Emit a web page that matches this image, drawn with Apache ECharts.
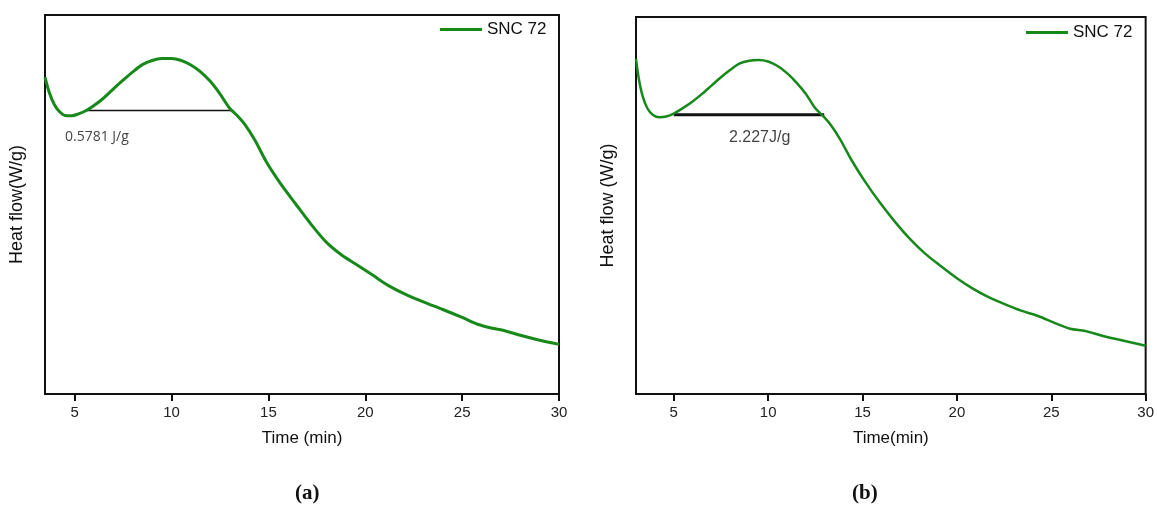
<!DOCTYPE html>
<html>
<head>
<meta charset="utf-8">
<script src="https://cdn.jsdelivr.net/npm/echarts@6/dist/echarts.min.js"></script>
<style>
  html, body { margin: 0; padding: 0; background: #fff; }
  #chart { width: 1157px; height: 507px; }
</style>
</head>
<body>
<div id="chart"></div>
<script>
// panel (a)
const timeA = [3.47, 3.7, 3.95, 4.2, 4.5, 4.85, 5.2, 5.6, 6.0, 6.5, 7.0, 7.5, 8.0, 8.5, 9.0, 9.5, 10.0, 10.5, 11.0, 11.5, 12.0, 12.5, 13.0, 13.4, 13.8, 14.3, 14.9, 15.6, 16.4, 17.2, 18.0, 18.8, 19.6, 20.4, 21.2, 22.0, 23.0, 24.0, 25.0, 25.8, 26.5, 27.2, 28.0, 29.0, 30]
const heatA = [83.6, 79.4, 76.4, 74.6, 73.5, 73.4, 73.9, 74.8, 76.1, 78.1, 80.5, 82.8, 85.0, 86.9, 88.0, 88.5, 88.5, 88.0, 86.8, 85.0, 82.5, 79.2, 75.4, 73.4, 71.0, 67.0, 61.2, 55.7, 50.2, 44.8, 40.0, 36.6, 34.0, 31.3, 28.6, 26.5, 24.3, 22.3, 20.2, 18.4, 17.4, 16.7, 15.5, 14.2, 13.1]
const baseA = [[5.53, 74.8], [13.11, 74.8]]
const noteA = [[4.5, 67.8, '0.5781 J/g']]

// panel (b)
const timeB = [3.0, 3.15, 3.35, 3.6, 3.9, 4.25, 4.6, 5.0, 5.5, 6.0, 6.5, 7.0, 7.5, 8.0, 8.5, 9.0, 9.5, 10.0, 10.5, 11.0, 11.5, 12.0, 12.5, 12.9, 13.3, 13.8, 14.4, 15.1, 15.9, 16.7, 17.5, 18.3, 19.1, 20.0, 20.8, 21.6, 22.5, 23.4, 24.3, 25.2, 26.0, 26.8, 27.6, 28.5, 29.3, 30]
const heatB = [88.9, 83.6, 79.0, 75.8, 74.0, 73.4, 73.6, 74.4, 75.9, 77.6, 79.6, 81.8, 84.0, 86.0, 87.7, 88.4, 88.6, 88.2, 87.0, 85.1, 82.6, 79.6, 75.8, 73.8, 71.5, 67.7, 62.2, 56.6, 50.9, 45.8, 41.2, 37.3, 34.1, 30.7, 28.1, 25.9, 23.9, 22.1, 20.7, 18.8, 17.3, 16.7, 15.6, 14.5, 13.6, 12.8]
const baseB = [[5.0, 74.1], [12.97, 74.1]]
const noteB = [[9.55, 67.9, '2.227J/g']]

const xTicks = [5, 10, 15, 20, 25, 30]
const seriesName = 'SNC 72'

const green = '#17891a'
const font = 'Liberation Sans, Arial, sans-serif'

function pairs (xs, ys) {
  return xs.map((x, i) => [x, ys[i]])
}

function xAxisFor (idx, min, name) {
  return {
    type: 'value',
    gridIndex: idx,
    min: min,
    max: 30,
    name: name,
    nameLocation: 'middle',
    nameGap: 36,
    nameTextStyle: { fontFamily: font, fontSize: 17, color: '#111' },
    axisLine: { show: true, lineStyle: { color: '#111', width: 2 } },
    axisTick: { show: true, length: 7, lineStyle: { color: '#111', width: 2 }, customValues: xTicks },
    axisLabel: { margin: 11, fontFamily: font, fontSize: 15, color: '#222', customValues: xTicks },
    splitLine: { show: false }
  }
}

function yAxisFor (idx, name) {
  return {
    type: 'value',
    gridIndex: idx,
    min: 0,
    max: 100,
    name: name,
    nameLocation: 'middle',
    nameGap: 19,
    nameTextStyle: { fontFamily: font, fontSize: 18, color: '#111' },
    axisLine: { show: true, lineStyle: { color: '#111', width: 2 } },
    axisTick: { show: false },
    axisLabel: { show: false },
    splitLine: { show: false }
  }
}

const chart = echarts.init(document.getElementById('chart'))
const option = {
  animation: false,
  backgroundColor: '#fff',
  title: [
    {
      text: '{p|(}{b|a}{p|)}',
      left: 290,
      top: 478,
      textStyle: {
        rich: {
          p: { fontFamily: 'Liberation Serif, serif', fontSize: 21, color: '#111' },
          b: { fontFamily: 'Liberation Serif, serif', fontSize: 21, fontWeight: 'bold', color: '#111' }
        }
      }
    },
    {
      text: '(b)',
      left: 847,
      top: 478,
      textStyle: { fontFamily: 'Liberation Serif, serif', fontSize: 21, fontWeight: 'bold', color: '#111' }
    }
  ],
  legend: [
    {
      data: [seriesName],
      left: 440,
      top: 21,
      padding: 0,
      icon: 'rect',
      itemWidth: 42,
      itemHeight: 3,
      itemGap: 5,
      selectedMode: false,
      textStyle: { fontFamily: font, fontSize: 17, color: '#111' }
    },
    {
      data: [seriesName],
      left: 1026,
      top: 24,
      padding: 0,
      icon: 'rect',
      itemWidth: 42,
      itemHeight: 3,
      itemGap: 5,
      selectedMode: false,
      textStyle: { fontFamily: font, fontSize: 17, color: '#111' }
    }
  ],
  grid: [
    { left: 45, top: 15, width: 514, height: 379, show: true, borderColor: '#111', borderWidth: 2 },
    { left: 636, top: 17, width: 511, height: 377, show: true, borderColor: '#111', borderWidth: 2 }
  ],
  xAxis: [xAxisFor(0, 3.47, 'Time (min)'), xAxisFor(1, 3, 'Time(min)')],
  yAxis: [yAxisFor(0, 'Heat flow(W/g)'), yAxisFor(1, 'Heat flow (W/g)')],
  series: [
    {
      name: seriesName,
      type: 'line',
      xAxisIndex: 0,
      yAxisIndex: 0,
      smooth: 0.3,
      showSymbol: false,
      lineStyle: { color: green, width: 3 },
      itemStyle: { color: green },
      data: pairs(timeA, heatA),
      z: 3
    },
    {
      type: 'line',
      xAxisIndex: 0,
      yAxisIndex: 0,
      showSymbol: false,
      lineStyle: { color: '#111', width: 1.5 },
      data: baseA,
      z: 2
    },
    {
      type: 'scatter',
      xAxisIndex: 0,
      yAxisIndex: 0,
      symbolSize: 0,
      label: {
        show: true,
        position: 'right',
        distance: 0,
        formatter: p => p.data[2],
        fontFamily: 'Open Sans, sans-serif',
        fontSize: 14,
        color: '#111'
      },
      data: noteA
    },
    {
      name: seriesName,
      type: 'line',
      xAxisIndex: 1,
      yAxisIndex: 1,
      smooth: 0.3,
      showSymbol: false,
      lineStyle: { color: green, width: 2.5 },
      itemStyle: { color: green },
      data: pairs(timeB, heatB),
      z: 3
    },
    {
      type: 'line',
      xAxisIndex: 1,
      yAxisIndex: 1,
      showSymbol: false,
      lineStyle: { color: '#111', width: 3 },
      data: baseB,
      z: 2
    },
    {
      type: 'scatter',
      xAxisIndex: 1,
      yAxisIndex: 1,
      symbolSize: 0,
      label: {
        show: true,
        position: 'inside',
        formatter: p => p.data[2],
        fontFamily: font,
        fontSize: 16,
        color: '#111'
      },
      data: noteB
    }
  ]
}
chart.setOption(option)
</script>
</body>
</html>
